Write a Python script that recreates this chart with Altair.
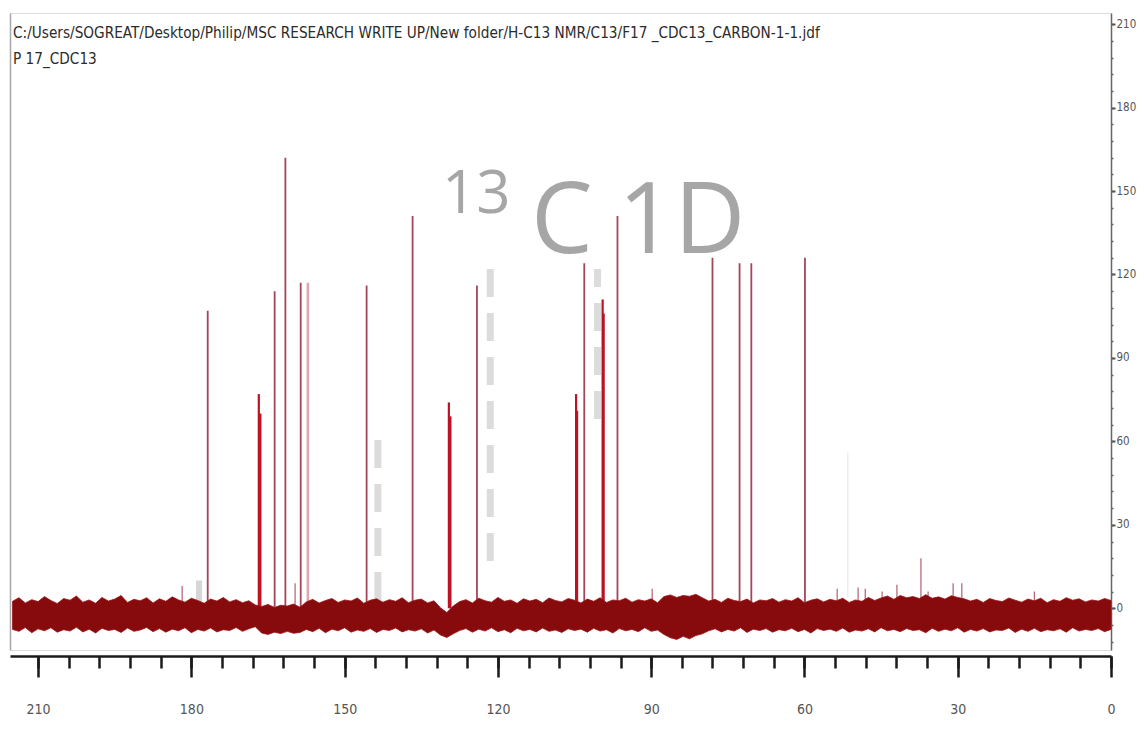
import altair as alt
import pandas as pd

# ---------------- data ----------------
title_line1 = "C:/Users/SOGREAT/Desktop/Philip/MSC RESEARCH WRITE UP/New folder/H-C13 NMR/C13/F17 _CDC13_CARBON-1-1.jdf"
title_line2 = "P 17_CDC13"
wm_small = "13"
wm_big = "C 1D"

# main peaks (ppm, intensity, style)
peak_ppm = [176.8, 166.8, 166.5, 163.7, 161.6, 158.6, 157.2, 145.7, 136.7, 129.6, 129.3,
            124.1, 104.7, 104.5, 103.1, 99.5, 99.3, 96.6, 78.0, 72.7, 70.4, 59.9]
peak_height = [107, 77, 70, 114, 162, 117, 117, 116, 141, 74, 69,
               116, 77, 71, 124, 111, 106, 141, 126, 124, 124, 126]
peak_kind = ["thin", "thick", "thick", "thin", "thin", "thin", "pale", "thin", "thin", "thick", "thick",
             "thin", "thick", "thick", "thin", "thick", "thick", "thin", "thin", "thin", "thin", "thin"]

# small peaks poking out of the noise
small_ppm = [181.8, 159.7, 89.8, 53.6, 49.5, 48.1, 44.8, 41.9, 37.2, 35.8, 30.9, 29.2, 15.0]
small_height = [8, 9, 7, 7, 7.5, 7, 6, 8.5, 18, 6, 9, 9, 6]

# faint grey watermark fragments (ppm, from, to)
stripe_ppm = [143.5, 121.5, 100.5]
stripe_lo = [3, 17, 68]
stripe_hi = [65, 125, 122]
block_ppm = [178.5]
block_lo = [1]
block_hi = [10]
hair_ppm = [51.5]
hair_lo = [4]
hair_hi = [56]

# noise band envelope (every 1.25 ppm from 215 down to 0, upper / lower intensity)
band_upper = [
    2.5, 3.8, 1.9, 3.1, 2.4, 4.2, 2.8, 1.7, 3.5, 2.9,
    4.4, 2.2, 3.0, 1.8, 3.9, 2.6, 3.3, 4.6, 2.1, 3.2,
    2.7, 3.8, 1.9, 3.4, 2.5, 4.1, 3.0, 2.2, 3.6, 2.8,
    1.8, 3.3, 2.6, 3.9, 2.3, 3.1, 2.0, 2.7, 1.2, 0.6,
    1.4, 0.3, 1.1, 0.8, 1.5, 0.4, 2.3, 3.2, 1.9, 2.8,
    3.5, 2.1, 3.0, 2.6, 3.7, 1.8, 2.9, 3.4, 2.2, 3.1,
    2.5, 3.8, 2.0, 2.9, 3.3, 1.9, 2.7, 0.2, -1.5, 0.8,
    2.4, 3.1, 1.9, 3.6, 2.7, 2.2, 3.9, 2.5, 3.0, 1.8,
    3.4, 2.6, 3.2, 2.0, 3.7, 2.8, 2.3, 3.5, 2.9, 1.9,
    3.3, 2.5, 3.8, 2.1, 3.0, 2.7, 3.6, 2.2, 3.1, 2.6,
    3.4, 2.0, 4.2, 4.8, 3.9, 4.6, 4.3, 5.0, 3.8, 2.6,
    3.2, 2.1, 3.6, 2.8, 2.4, 3.3, 1.9, 3.0, 2.7, 3.5,
    2.2, 3.1, 2.6, 3.8, 2.0, 2.9, 3.4, 2.3, 3.2, 2.7,
    3.6, 2.1, 3.0, 2.5, 3.9, 2.8, 3.7, 4.4, 3.2, 4.6,
    3.8, 4.2, 3.5, 4.9, 3.6, 4.1, 3.3, 4.5, 3.9, 3.4,
    2.6, 3.2, 2.1, 3.5, 2.8, 2.4, 3.7, 2.9, 2.2, 3.3,
    2.7, 3.6, 2.0, 3.1, 2.5, 3.8, 2.9, 3.4, 2.3, 3.0,
    2.6, 3.5, 2.8]
band_lower = [
    -7.6, -8.3, -6.9, -8.8, -7.4, -8.1, -7.0, -8.6, -7.7, -8.2,
    -6.8, -8.5, -7.5, -8.9, -7.2, -8.0, -7.6, -8.7, -7.1, -8.3,
    -7.8, -6.9, -8.4, -7.3, -8.6, -7.5, -8.1, -7.0, -8.8, -7.6,
    -8.2, -7.1, -8.5, -7.7, -8.0, -6.9, -8.3, -7.4, -6.6, -8.9,
    -9.4, -8.6, -9.1, -8.3, -9.0, -8.7, -7.6, -8.4, -7.2, -8.8,
    -7.5, -8.1, -7.0, -8.6, -7.8, -8.3, -7.3, -8.7, -7.6, -8.0,
    -7.1, -8.5, -7.7, -8.2, -7.4, -8.9, -7.8, -9.6, -10.5, -9.2,
    -8.0, -7.3, -8.6, -7.5, -8.2, -7.0, -8.4, -7.7, -8.8, -7.2,
    -8.1, -7.6, -8.5, -7.1, -8.3, -7.8, -8.7, -7.4, -8.0, -7.5,
    -8.6, -7.2, -8.2, -7.7, -8.9, -7.3, -8.1, -7.6, -8.4, -7.0,
    -8.3, -7.8, -9.4, -10.6, -11.2, -10.1, -11.0, -9.8, -9.2, -8.1,
    -7.4, -8.5, -7.6, -8.2, -7.0, -8.7, -7.5, -8.0, -7.3, -8.6,
    -7.7, -8.1, -7.2, -8.4, -7.6, -8.9, -7.3, -8.0, -7.5, -8.3,
    -7.1, -8.6, -7.8, -8.2, -7.4, -8.5, -7.0, -8.1, -7.6, -8.4,
    -7.3, -8.0, -7.7, -8.8, -7.2, -8.3, -7.5, -8.1, -7.0, -8.6,
    -7.6, -8.2, -7.3, -8.5, -7.8, -8.0, -7.1, -8.7, -7.5, -8.3,
    -7.2, -8.4, -7.7, -8.1, -7.4, -8.6, -7.0, -8.2, -7.6, -8.0,
    -7.3, -8.4, -7.6]
n_band = min(len(band_upper), len(band_lower))
band_ppm = [round(215 - 1.25 * i, 2) for i in range(n_band)]

x_major = [210, 180, 150, 120, 90, 60, 30, 0]
x_minor = list(range(216, -1, -6))
y_major = [0, 30, 60, 90, 120, 150, 180, 210]
y_minor = list(range(-12, 214, 6))

# ---------------- tables ----------------
peaks = pd.DataFrame({"ppm": peak_ppm, "h": peak_height, "kind": peak_kind})
small = pd.DataFrame({"ppm": small_ppm, "h": small_height})
stripes = pd.DataFrame({"ppm": stripe_ppm, "lo": stripe_lo, "hi": stripe_hi})
blocks = pd.DataFrame({"ppm": block_ppm, "lo": block_lo, "hi": block_hi})
hairs = pd.DataFrame({"ppm": hair_ppm, "lo": hair_lo, "hi": hair_hi})
band = pd.DataFrame({"ppm": band_ppm, "up": band_upper[:n_band], "lo": band_lower[:n_band]})

FONT = "Liberation Sans Narrow, DejaVu Sans Condensed, Liberation Sans, sans-serif"
xs = alt.Scale(domain=[215.5, 0], nice=False, zero=False)
ys = alt.Scale(domain=[-15, 214], nice=False, zero=False)

# ---------------- layers ----------------
stripe_layer = alt.Chart(stripes).mark_rule(strokeDash=[28, 16], strokeWidth=7, color="#dcdcdc").encode(
    x=alt.X("ppm:Q", scale=xs, axis=None),
    y=alt.Y("lo:Q", scale=ys, axis=alt.Axis(orient="left", ticks=False, labels=False, grid=False,
                                           domainColor="#a8a8a8", domainWidth=1.5, title=None)),
    y2="hi:Q",
)

block_layer = alt.Chart(blocks).mark_rule(strokeWidth=6, color="#d6d6d6").encode(
    x=alt.X("ppm:Q", scale=xs, axis=None),
    y=alt.Y("lo:Q", scale=ys, axis=None),
    y2="hi:Q",
)

hair_layer = alt.Chart(hairs).mark_rule(strokeWidth=1, color="#e4e4e4").encode(
    x=alt.X("ppm:Q", scale=xs, axis=None),
    y=alt.Y("lo:Q", scale=ys, axis=None),
    y2="hi:Q",
)

wm_small_layer = alt.Chart(pd.DataFrame({"t": [wm_small]})).mark_text(
    align="left", baseline="alphabetic", font="Open Sans", fontSize=60, color="#a6a6a6"
).encode(text="t:N", x=alt.value(432), y=alt.value(200))

wm_big_layer = alt.Chart(pd.DataFrame({"t": [wm_big]})).mark_text(
    align="left", baseline="alphabetic", font="Open Sans", fontSize=98, color="#a6a6a6"
).encode(text="t:N", x=alt.value(521), y=alt.value(240))

peak_layer = alt.Chart(peaks).mark_rule().encode(
    x=alt.X("ppm:Q", scale=xs, axis=alt.Axis(orient="bottom", values=x_minor, tickSize=12, tickWidth=2.5,
                                            tickColor="#1a1a1a", labels=False, domain=False, grid=False,
                                            offset=6, title=None)),
    y=alt.Y("h:Q", scale=ys, axis=alt.Axis(orient="right", values=y_minor, tickSize=2, tickWidth=1.5,
                                          tickColor="#666", labels=False, domain=False, grid=False,
                                          title=None)),
    y2=alt.datum(0),
    color=alt.Color("kind:N", scale=alt.Scale(domain=["thin", "thick", "pale"],
                                              range=["#a5455a", "#bc1224", "#e2a6b0"]), legend=None),
    strokeWidth=alt.StrokeWidth("kind:N", scale=alt.Scale(domain=["thin", "thick", "pale"],
                                                          range=[1.8, 2.6, 1.5]), legend=None),
)

small_layer = alt.Chart(small).mark_rule(color="#b06070", strokeWidth=1.2).encode(
    x=alt.X("ppm:Q", scale=xs, axis=None),
    y=alt.Y("h:Q", scale=ys, axis=None),
    y2=alt.datum(0),
)

band_layer = alt.Chart(band).mark_area(color="#870a0c", interpolate="linear",
                                       stroke="#9a1416", strokeWidth=0.8).encode(
    x=alt.X("ppm:Q", scale=xs, axis=alt.Axis(orient="bottom", values=x_major, tickSize=21, tickWidth=2.5,
                                            tickColor="#1a1a1a", domainColor="#1a1a1a", domainWidth=2.5,
                                            labelFont=FONT, labelFontSize=14, labelColor="#555555",
                                            labelPadding=25, labelFlush=False, grid=False, offset=6,
                                            title=None)),
    y=alt.Y("up:Q", scale=ys, axis=alt.Axis(orient="right", values=y_major, tickSize=4, tickWidth=2,
                                           tickColor="#555", domainColor="#666", domainWidth=1.5,
                                           labelFont=FONT, labelFontSize=11.5, labelColor="#555555",
                                           labelPadding=1, labelFlush=False, grid=False, title=None)),
    y2="lo:Q",
)

t1_layer = alt.Chart(pd.DataFrame({"t": [title_line1]})).mark_text(
    align="left", baseline="middle", font=FONT, fontSize=15.2, color="#2b2b2b"
).encode(text="t:N", x=alt.value(3), y=alt.value(20))

t2_layer = alt.Chart(pd.DataFrame({"t": [title_line2]})).mark_text(
    align="left", baseline="middle", font=FONT, fontSize=15.2, color="#2b2b2b"
).encode(text="t:N", x=alt.value(3), y=alt.value(46))

chart = alt.layer(
    stripe_layer, block_layer, hair_layer, wm_small_layer, wm_big_layer,
    peak_layer, small_layer, band_layer, t1_layer, t2_layer
).resolve_axis(x="independent", y="independent").resolve_scale(
    color="independent", strokeWidth="independent"
).properties(
    width=1101, height=637,
    autosize=alt.AutoSizeParams(type="none"),
    padding={"left": 2, "top": 5, "right": 26, "bottom": 80},
).configure_view(stroke=None).configure(background="white")

chart.save("out.html", embed_options={"renderer": "svg", "actions": False})
